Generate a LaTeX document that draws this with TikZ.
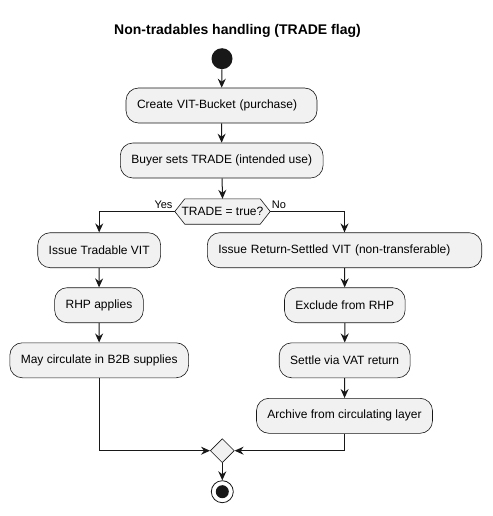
\documentclass[tikz,border=0pt]{standalone}
\usepackage{fontspec}
\setmainfont{Liberation Sans}
\usetikzlibrary{arrows.meta,shapes.geometric}
\definecolor{boxfill}{HTML}{F1F1F1}
\definecolor{linec}{HTML}{181818}
\tikzset{
  act/.style={draw=linec, fill=boxfill, line width=0.6pt, rounded corners=12.5pt,
    minimum height=35pt, inner xsep=11pt, inner ysep=0pt,
    font=\fontsize{12}{14}\selectfont, text=black},
  flow/.style={draw=linec, line width=1pt, -{Stealth[length=9pt,width=8pt,inset=3pt]}},
  lbl/.style={font=\fontsize{11}{13}\selectfont, inner sep=0pt, text=black}
}
\begin{document}
\begin{tikzpicture}[x=1pt,y=-1pt]
\useasboundingbox[fill=white] (0,0) rectangle (492,516);
\node[font=\bfseries\fontsize{14}{16}\selectfont] (title) at (237.5,31) {Non-tradables handling (TRADE flag)};
\node[circle, fill=linec, minimum size=21pt, inner sep=0pt] (start) at (222,58.7) {};
\node[act, text width=169pt, align=left] (b1) at (221.5,105.5) {Create VIT-Bucket (purchase)};
\node[act, minimum width=202pt] (b2) at (221.7,160.5) {Buyer sets TRADE (intended use)};
\node[minimum width=95pt, minimum height=25pt, inner sep=0pt] (dec) at (222.5,211.5) {};
\draw[linec, fill=boxfill, line width=0.6pt] (dec.west) -- ([xshift=10pt]dec.north west) -- ([xshift=-10pt]dec.north east) -- (dec.east) -- ([xshift=-10pt]dec.south east) -- ([xshift=10pt]dec.south west) -- cycle;
\node[font=\fontsize{12}{14}\selectfont, inner sep=0pt] (dectext) at (dec.center) {TRADE = true?};
\node[act, minimum width=121.7pt] (l1) at (99.2,250.2) {Issue Tradable VIT};
\node[act, text width=252.4pt, align=left] (r1) at (344.5,250.2) {Issue Return-Settled VIT (non-transferable)};
\node[act, minimum width=86.6pt] (l2) at (99,305.2) {RHP applies};
\node[act, minimum width=119pt] (r2) at (344.8,305.2) {Exclude from RHP};
\node[act, minimum width=176.3pt] (l3) at (99.2,360.3) {May circulate in B2B supplies};
\node[act, minimum width=130.7pt] (r3) at (344.7,360.3) {Settle via VAT return};
\node[act, minimum width=174.4pt] (r4) at (344.5,415.8) {Archive from circulating layer};
\node[diamond, aspect=1, draw=linec, fill=boxfill, line width=0.6pt, minimum width=24pt, minimum height=24pt, inner sep=0pt] (merge) at (222.3,450.7) {};
\node[circle, draw=linec, line width=0.8pt, fill=white, minimum size=22pt, inner sep=0pt] (end) at (222.3,491.7) {};
\fill[linec] (end.center) circle (6.5pt);
\node[lbl] (yes) at (163.5,204.5) {Yes};
\node[lbl] (no) at (279,204.5) {No};
\path[flow] (start) -- (b1);
\path[flow] (b1) -- (b2);
\path[flow] (b2) -- (dec.north);
\path[flow] (dec.west) -| (l1.north);
\path[flow] (dec.east) -| (r1.north);
\path[flow] (l1) -- (l2);
\path[flow] (l2) -- (l3);
\path[flow] (r1) -- (r2);
\path[flow] (r2) -- (r3);
\path[flow] (r3) -- (r4);
\path[flow] (l3.south) |- (merge.west);
\path[flow] (r4.south) |- (merge.east);
\path[flow] (merge) -- (end);
\end{tikzpicture}
\end{document}
